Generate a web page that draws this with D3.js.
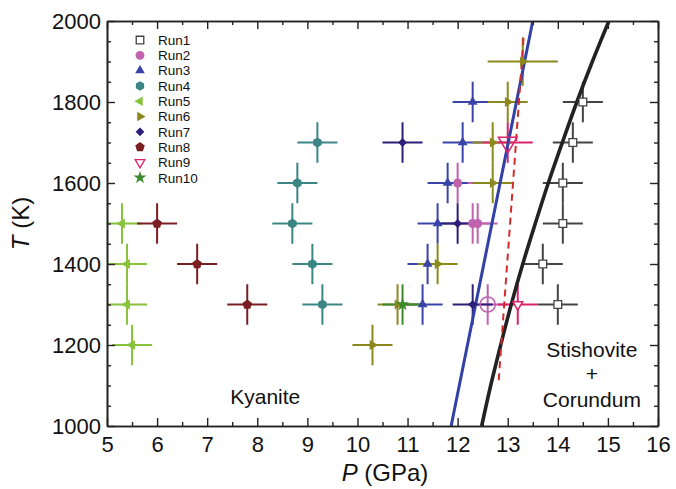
<!DOCTYPE html>
<html lang="en">
<head>
<meta charset="UTF-8">
<title>Kyanite P-T</title>
<script src="https://cdn.jsdelivr.net/npm/d3@7/dist/d3.min.js"></script>
<style>
  body { margin: 0; background: #fff; }
  text { font-family: "Liberation Sans", Arial, sans-serif; fill: #111; }
</style>
</head>
<body>
<svg width="676" height="489"></svg>
<script>
  // each point: [P (GPa), T (K), P error, T error]
  const run1 = [[14.5, 1800, 0.4, 50], [14.3, 1700, 0.4, 50], [14.1, 1600, 0.4, 50], [14.1, 1500, 0.4, 50], [13.7, 1400, 0.4, 50], [14.0, 1300, 0.4, 50]];
  const run2 = [[12.0, 1600, 0.4, 50], [12.3, 1500, 0.4, 50], [12.4, 1500, 0.4, 50], [12.6, 1300, 0.4, 50]];
  const run3 = [[12.3, 1800, 0.4, 50], [12.1, 1700, 0.4, 50], [11.8, 1600, 0.4, 50], [11.6, 1500, 0.4, 50], [11.4, 1400, 0.4, 50], [11.3, 1300, 0.4, 50]];
  const run4 = [[9.2, 1700, 0.4, 50], [8.8, 1600, 0.4, 50], [8.7, 1500, 0.4, 50], [9.1, 1400, 0.4, 50], [9.3, 1300, 0.4, 50]];
  const run5 = [[5.3, 1500, 0.4, 50], [5.4, 1400, 0.4, 50], [5.4, 1300, 0.4, 50], [5.5, 1200, 0.4, 50]];
  const run6 = [[13.3, 1900, 0.7, 60], [13.0, 1800, 0.4, 50], [12.7, 1700, 0.4, 50], [12.7, 1600, 0.4, 50], [11.6, 1400, 0.4, 50], [10.8, 1300, 0.4, 50], [10.3, 1200, 0.4, 50]];
  const run7 = [[10.9, 1700, 0.4, 50], [12.0, 1500, 0.4, 50], [12.3, 1300, 0.4, 50]];
  const run8 = [[6.0, 1500, 0.4, 50], [6.8, 1400, 0.4, 50], [7.8, 1300, 0.4, 50]];
  const run9 = [[13.0, 1700, 0.5, 50], [13.2, 1300, 0.4, 50]];
  const run10 = [[10.9, 1300, 0.4, 50]];

  const runNames = ['Run1', 'Run2', 'Run3', 'Run4', 'Run5', 'Run6', 'Run7', 'Run8', 'Run9', 'Run10'];

  // phase boundaries [P, T]
  const blueLine = [[11.87, 1000], [13.5, 2000]];
  const dashedLine = [[12.82, 1113], [13.32, 1965]];
  const blackCurve = [[12.48, 1000], [12.66, 1100], [12.86, 1200], [13.07, 1300], [13.30, 1400], [13.55, 1500],
    [13.81, 1600], [14.09, 1700], [14.38, 1800], [14.69, 1900], [15.02, 2000]];

  const xTicks = [5, 6, 7, 8, 9, 10, 11, 12, 13, 14, 15, 16];
  const yTicks = [1000, 1200, 1400, 1600, 1800, 2000];

  const svg = d3.select('svg');
  const margin = { top: 21, right: 18, bottom: 63, left: 107 };
  const innerWidth = 676 - margin.left - margin.right;
  const innerHeight = 489 - margin.top - margin.bottom;

  const g = svg.append('g').attr('transform', `translate(${margin.left},${margin.top})`);

  const x = d3.scaleLinear().domain([5, 16]).range([0, innerWidth]);
  const y = d3.scaleLinear().domain([1000, 2000]).range([innerHeight, 0]);

  // custom polygon symbols
  function polygon(n, rot) {
    const k = n * Math.sin(2 * Math.PI / n) / 2;
    return {
      draw(ctx, size) {
        const r = Math.sqrt(size / k);
        for (let i = 0; i < n; i++) {
          const a = rot + i * 2 * Math.PI / n;
          const px = r * Math.sin(a), py = -r * Math.cos(a);
          if (i === 0) ctx.moveTo(px, py); else ctx.lineTo(px, py);
        }
        ctx.closePath();
      }
    };
  }
  const tri = polygon(3, 0);
  const styles = [
    { color: '#444', type: d3.symbolSquare, size: 60, rot: 0, fill: '#fff' },
    { color: '#c062ae', type: d3.symbolCircle, size: 64, rot: 0 },
    { color: '#3a43a8', type: tri, size: 42, rot: 0 },
    { color: '#3b8585', type: polygon(6, 0), size: 62, rot: 0 },
    { color: '#86c23a', type: tri, size: 42, rot: -90 },
    { color: '#8d881e', type: tri, size: 42, rot: 90 },
    { color: '#2c1f78', type: d3.symbolSquare, size: 40, rot: 45 },
    { color: '#7a1e22', type: polygon(5, 0), size: 62, rot: 0 },
    { color: '#d8246a', type: tri, size: 42, rot: 180, fill: '#fff' },
    { color: '#3d8a2c', type: d3.symbolStar, size: 55, rot: 0 }
  ];
  // a few markers in the plot are drawn bigger / hollow
  const special = { '1-3': { size: 180, fill: 'none' }, '8-0': { size: 150, fill: 'none' } };

  const runs = [run1, run2, run3, run4, run5, run6, run7, run8, run9, run10];

  g.append('clipPath').attr('id', 'clip').append('rect')
    .attr('width', innerWidth).attr('height', innerHeight);

  const plot = g.append('g').attr('clip-path', 'url(#clip)');

  // error bars
  runs.forEach((run, ri) => {
    const grp = plot.append('g').attr('stroke', styles[ri].color).attr('stroke-width', 2);
    run.forEach(d => {
      grp.append('line')
        .attr('x1', x(d[0] - d[2])).attr('x2', x(d[0] + d[2]))
        .attr('y1', y(d[1])).attr('y2', y(d[1]));
      grp.append('line')
        .attr('x1', x(d[0])).attr('x2', x(d[0]))
        .attr('y1', y(d[1] - d[3])).attr('y2', y(d[1] + d[3]));
    });
  });

  // phase boundaries
  const line = d3.line().x(d => x(d[0])).y(d => y(d[1])).curve(d3.curveCatmullRom);
  plot.append('path').datum(blackCurve).attr('d', line)
    .attr('fill', 'none').attr('stroke', '#222').attr('stroke-width', 3.6);
  plot.append('path').datum(blueLine).attr('d', line)
    .attr('fill', 'none').attr('stroke', '#3340a6').attr('stroke-width', 3);
  plot.append('path').datum(dashedLine).attr('d', line)
    .attr('fill', 'none').attr('stroke', '#d42a2a').attr('stroke-width', 2)
    .attr('stroke-dasharray', '7,5');

  // markers
  runs.forEach((run, ri) => {
    const s = styles[ri];
    run.forEach((d, i) => {
      const sp = special[ri + '-' + i] || {};
      const fill = sp.fill || s.fill || s.color;
      plot.append('path')
        .attr('d', d3.symbol().type(s.type).size(sp.size || s.size)())
        .attr('transform', `translate(${x(d[0])},${y(d[1])}) rotate(${s.rot})`)
        .attr('fill', fill)
        .attr('stroke', fill === s.color ? 'none' : s.color)
        .attr('stroke-width', ri === 0 ? 1.3 : 1.5);
    });
  });

  // axes
  const minorX = d3.range(5.5, 16, 1);
  const minorY = d3.range(1050, 2000, 100).concat(d3.range(1100, 2000, 200));

  function styleAxis(sel) {
    sel.selectAll('path').attr('stroke', '#222').attr('stroke-width', 1.6);
    sel.selectAll('line').attr('stroke', '#222').attr('stroke-width', 1.4);
    sel.selectAll('text').attr('font-size', 22).attr('fill', '#111')
      .attr('font-family', '"Liberation Sans", Arial, sans-serif');
  }
  function noLabels(sel) {
    sel.selectAll('text').remove();
  }

  g.append('g').attr('transform', `translate(0,${innerHeight})`)
    .call(d3.axisBottom(x).tickValues(xTicks).tickFormat(d3.format('d')).tickSize(-8).tickSizeOuter(0).tickPadding(10))
    .call(styleAxis);
  g.append('g').attr('transform', `translate(0,${innerHeight})`)
    .call(d3.axisBottom(x).tickValues(minorX).tickSize(-4).tickSizeOuter(0))
    .call(styleAxis).call(noLabels);
  g.append('g')
    .call(d3.axisTop(x).tickValues(xTicks).tickSize(-8).tickSizeOuter(0))
    .call(styleAxis).call(noLabels);
  g.append('g')
    .call(d3.axisTop(x).tickValues(minorX).tickSize(-4).tickSizeOuter(0))
    .call(styleAxis).call(noLabels);

  g.append('g')
    .call(d3.axisLeft(y).tickValues(yTicks).tickFormat(d3.format('d')).tickSize(-8).tickSizeOuter(0).tickPadding(6))
    .call(styleAxis);
  g.append('g')
    .call(d3.axisLeft(y).tickValues(minorY).tickSize(-4).tickSizeOuter(0))
    .call(styleAxis).call(noLabels);
  g.append('g').attr('transform', `translate(${innerWidth},0)`)
    .call(d3.axisRight(y).tickValues(yTicks).tickSize(-8).tickSizeOuter(0))
    .call(styleAxis).call(noLabels);
  g.append('g').attr('transform', `translate(${innerWidth},0)`)
    .call(d3.axisRight(y).tickValues(minorY).tickSize(-4).tickSizeOuter(0))
    .call(styleAxis).call(noLabels);

  // axis titles
  svg.append('text')
    .attr('x', margin.left + x(10.55)).attr('y', 481)
    .attr('text-anchor', 'middle').attr('font-size', 24)
    .html('<tspan font-style="italic">P</tspan> (GPa)');
  svg.append('text')
    .attr('transform', `translate(29,${margin.top + y(1500)}) rotate(-90)`)
    .attr('text-anchor', 'middle').attr('font-size', 24)
    .html('<tspan font-style="italic">T</tspan> (K)');

  // region labels
  g.append('text').attr('x', x(8.16)).attr('y', 383)
    .attr('text-anchor', 'middle').attr('font-size', 21).text('Kyanite');
  const st = g.append('text').attr('text-anchor', 'middle').attr('font-size', 21);
  st.append('tspan').attr('x', x(14.68)).attr('y', 336).text('Stishovite');
  st.append('tspan').attr('x', x(14.68)).attr('y', 360).text('+');
  st.append('tspan').attr('x', x(14.68)).attr('y', 386).text('Corundum');

  // legend
  const legend = g.append('g').attr('transform', 'translate(33,19)');
  runNames.forEach((name, i) => {
    const s = styles[i];
    const fill = s.fill || s.color;
    const row = legend.append('g').attr('transform', `translate(0,${i * 15.3})`);
    row.append('path')
      .attr('d', d3.symbol().type(s.type).size(s.size * 0.95)())
      .attr('transform', `rotate(${s.rot})`)
      .attr('fill', fill)
      .attr('stroke', fill === s.color ? 'none' : s.color)
      .attr('stroke-width', 1.3);
    row.append('text').attr('x', 18).attr('dy', '0.36em')
      .attr('font-size', 13.5).text(name);
  });
</script>
</body>
</html>
